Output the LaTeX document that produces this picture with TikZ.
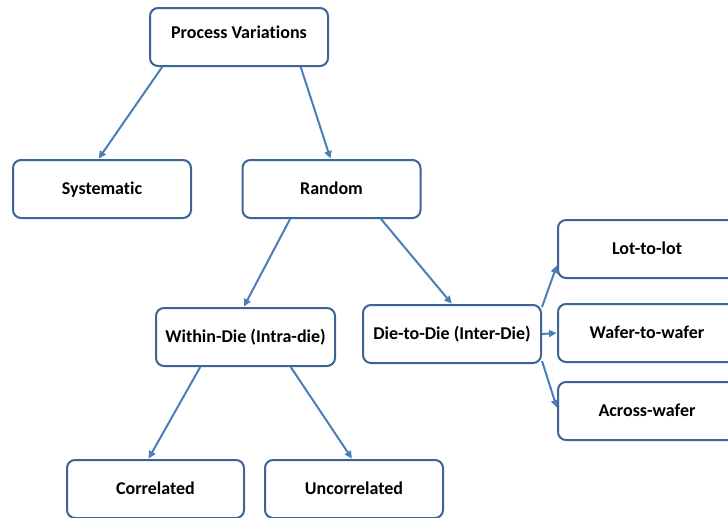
\documentclass[tikz,border=0pt]{standalone}
\usepackage{fontspec}
\setmainfont[Ligatures=NoCommon]{Carlito}
\usetikzlibrary{arrows.meta,calc}
\definecolor{boxline}{RGB}{62,100,150}
\definecolor{linkline}{RGB}{74,126,187}
\tikzset{
  box/.style={draw=boxline, line width=2pt, rounded corners=8pt, fill=white,
    minimum width=178pt, minimum height=58pt, inner sep=0pt,
    text height=11.6pt, text depth=0pt,
    font=\fontsize{18}{21}\selectfont\bfseries, text=black},
  link/.style={draw=linkline, line width=2pt,
    -{Triangle[length=7.5pt,width=7pt]}, shorten >=0.5pt}
}
\begin{document}
\begin{tikzpicture}[x=1pt,y=-1pt]
\useasboundingbox (0,0) rectangle (728,517);
\clip (0,0) rectangle (728,517);

% boxes
\node[box, text depth=8pt] (pv)  at (239,37)  {Process Variations};
\node[box] (sys) at (102,189) {Systematic};
\node[box] (rnd) at (331.5,189) {Random};
\node[box, minimum width=179pt] (wid) at (245.5,337) {Within-Die (Intra-die)};
\node[box] (d2d) at (452,334) {Die-to-Die (Inter-Die)};
\node[box] (lot) at (647,249) {Lot-to-lot};
\node[box] (waf) at (647,333) {Wafer-to-wafer};
\node[box] (acr) at (647,411) {Across-wafer};
\node[box, minimum width=177pt] (cor) at (155.5,489) {Correlated};
\node[box] (unc) at (354,489) {Uncorrelated};

% connector end points on the box borders
\coordinate (pvA) at ($(pv.south west)!0.073!(pv.south east)$);
\coordinate (pvB) at ($(pv.south west)!0.843!(pv.south east)$);
\coordinate (sysT) at ($(sys.north west)!0.48!(sys.north east)$);
\coordinate (rndT) at ($(rnd.north west)!0.495!(rnd.north east)$);
\coordinate (rndA) at ($(rnd.south west)!0.27!(rnd.south east)$);
\coordinate (rndB) at ($(rnd.south west)!0.775!(rnd.south east)$);
\coordinate (widT) at ($(wid.north west)!0.49!(wid.north east)$);
\coordinate (d2dT) at ($(d2d.north west)!0.5!(d2d.north east)$);
\coordinate (widA) at ($(wid.south west)!0.25!(wid.south east)$);
\coordinate (widB) at ($(wid.south west)!0.75!(wid.south east)$);
\coordinate (corT) at ($(cor.north west)!0.46!(cor.north east)$);
\coordinate (uncT) at ($(unc.north west)!0.49!(unc.north east)$);
\coordinate (d2dA) at ($(d2d.north east)+(0,3)$);
\coordinate (d2dC) at ($(d2d.south east)+(0,-3)$);
\coordinate (lotL) at ($(lot.west)+(0,16)$);
\coordinate (acrL) at ($(acr.west)+(0,-3)$);

% connectors
\draw[link] (pvA) -- (sysT);
\draw[link] (pvB) -- (rndT);
\draw[link] (rndA) -- (widT);
\draw[link] (rndB) -- (d2dT);
\draw[link] (widA) -- (corT);
\draw[link] (widB) -- (uncT);
\draw[link] (d2dA) -- (lotL);
\draw[link] (d2d.east) -- (waf.west);
\draw[link] (d2dC) -- (acrL);
\end{tikzpicture}
\end{document}
